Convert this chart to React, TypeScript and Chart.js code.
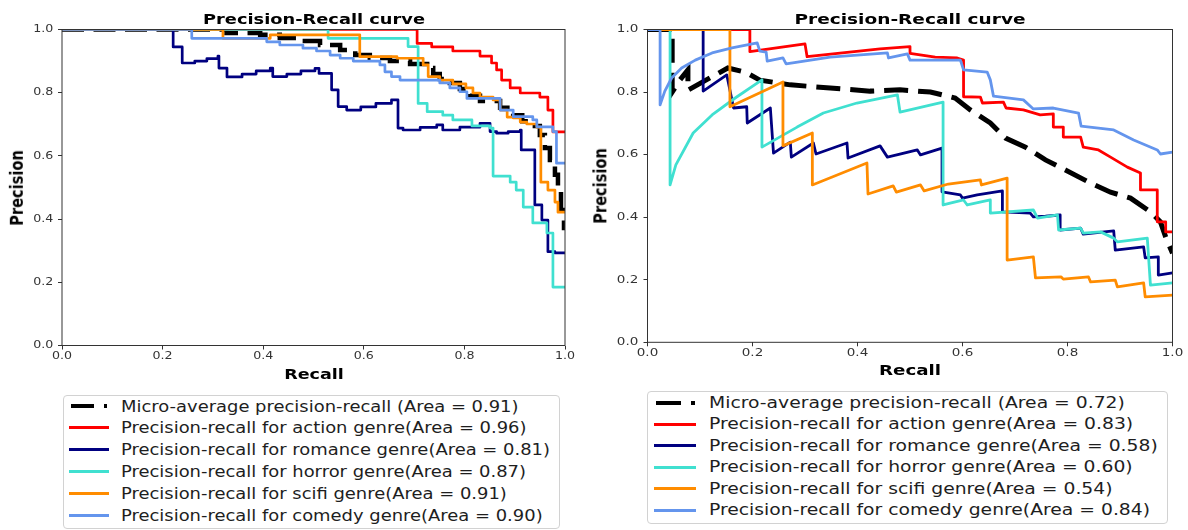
import React, { useEffect, useRef } from "react";
import { Chart, registerables } from "chart.js";

Chart.register(...registerables);

// ---------- shared text / styling values ----------
const TICK_VALUES = [0, 0.2, 0.4, 0.6, 0.8, 1.0];
const COLORS = ["#000000", "#ff0000", "#000080", "#40e0d0", "#ff8c00", "#6495ed"];
const TITLE = "Precision-Recall curve";
const X_TITLE = "Recall";
const Y_TITLE = "Precision";
const FONT = '"DejaVu Sans", "Liberation Sans", sans-serif';
const AXIS_COLOR = "#333333";
const TEXT_COLOR = "#1e1e1e";

const LEFT_LABELS = [
  "Micro-average precision-recall (Area = 0.91)",
  "Precision-recall for action genre(Area = 0.96)",
  "Precision-recall for romance genre(Area = 0.81)",
  "Precision-recall for horror genre(Area = 0.87)",
  "Precision-recall for scifi genre(Area = 0.91)",
  "Precision-recall for comedy genre(Area = 0.90)",
];
const RIGHT_LABELS = [
  "Micro-average precision-recall (Area = 0.72)",
  "Precision-recall for action genre(Area = 0.83)",
  "Precision-recall for romance genre(Area = 0.58)",
  "Precision-recall for horror genre(Area = 0.60)",
  "Precision-recall for scifi genre(Area = 0.54)",
  "Precision-recall for comedy genre(Area = 0.84)",
];

// ---------- left panel data (stepped curves) ----------
const L_MICRO_R = [0, 0.327, 0.394, 0.433, 0.473, 0.513, 0.553, 0.583, 0.612, 0.652, 0.692, 0.726, 0.738, 0.751, 0.771, 0.791, 0.811, 0.831, 0.871, 0.897, 0.915, 0.934, 0.95, 0.96, 0.97, 0.98, 0.986, 0.992, 0.998, 1.0];
const L_MICRO_P = [1.0, 0.989, 0.983, 0.973, 0.964, 0.951, 0.935, 0.919, 0.91, 0.9, 0.891, 0.878, 0.859, 0.843, 0.831, 0.812, 0.79, 0.774, 0.752, 0.729, 0.71, 0.695, 0.666, 0.625, 0.587, 0.54, 0.486, 0.429, 0.372, 0.372];

const L_ACTION_R = [0, 0.706, 0.735, 0.777, 0.831, 0.854, 0.864, 0.874, 0.891, 0.911, 0.95, 0.966, 0.976, 1.0];
const L_ACTION_P = [1.0, 0.956, 0.945, 0.932, 0.916, 0.894, 0.872, 0.84, 0.815, 0.799, 0.786, 0.745, 0.676, 0.676];

const L_ROMANCE_R = [0, 0.221, 0.239, 0.264, 0.288, 0.31, 0.312, 0.328, 0.358, 0.386, 0.414, 0.419, 0.447, 0.475, 0.503, 0.511, 0.536, 0.549, 0.566, 0.594, 0.624, 0.655, 0.668, 0.678, 0.712, 0.745, 0.757, 0.791, 0.831, 0.851, 0.864, 0.887, 0.911, 0.913, 0.94, 0.954, 0.966, 0.98, 1.0];
const L_ROMANCE_P = [1.0, 0.945, 0.894, 0.9, 0.908, 0.916, 0.878, 0.85, 0.859, 0.869, 0.878, 0.851, 0.859, 0.869, 0.877, 0.861, 0.809, 0.756, 0.745, 0.755, 0.766, 0.777, 0.688, 0.682, 0.69, 0.698, 0.682, 0.691, 0.703, 0.677, 0.672, 0.677, 0.682, 0.619, 0.445, 0.397, 0.297, 0.293, 0.293];

const L_HORROR_R = [0, 0.529, 0.688, 0.708, 0.726, 0.757, 0.777, 0.815, 0.851, 0.857, 0.891, 0.903, 0.917, 0.936, 0.964, 0.976, 1.0];
const L_HORROR_P = [1.0, 0.972, 0.946, 0.766, 0.74, 0.729, 0.714, 0.695, 0.688, 0.536, 0.517, 0.492, 0.438, 0.388, 0.356, 0.185, 0.185];

const L_SCIFI_R = [0, 0.32, 0.414, 0.592, 0.666, 0.718, 0.728, 0.751, 0.777, 0.803, 0.817, 0.831, 0.857, 0.871, 0.885, 0.897, 0.911, 0.924, 0.944, 0.952, 0.966, 0.98, 0.986, 1.0];
const L_SCIFI_P = [1.0, 0.972, 0.983, 0.914, 0.909, 0.888, 0.851, 0.84, 0.828, 0.815, 0.799, 0.786, 0.777, 0.745, 0.723, 0.72, 0.707, 0.701, 0.691, 0.517, 0.492, 0.454, 0.422, 0.422];

const L_COMEDY_R = [0, 0.258, 0.407, 0.433, 0.479, 0.506, 0.533, 0.553, 0.579, 0.632, 0.642, 0.655, 0.672, 0.751, 0.771, 0.791, 0.805, 0.871, 0.897, 0.936, 0.944, 0.976, 0.983, 1.0];
const L_COMEDY_P = [1.0, 0.972, 0.961, 0.951, 0.941, 0.932, 0.919, 0.909, 0.9, 0.888, 0.866, 0.851, 0.84, 0.831, 0.815, 0.803, 0.782, 0.745, 0.724, 0.714, 0.692, 0.677, 0.577, 0.577];

// ---------- right panel data (plain polylines) ----------
const R_MICRO_R = [0, 0.047, 0.047, 0.062, 0.077, 0.077, 0.153, 0.186, 0.214, 0.272, 0.348, 0.424, 0.481, 0.539, 0.586, 0.615, 0.653, 0.682, 0.72, 0.758, 0.796, 0.844, 0.882, 0.92, 0.958, 0.977, 0.989, 1.0];
const R_MICRO_P = [1.0, 1.0, 0.8, 0.839, 0.871, 0.806, 0.877, 0.864, 0.838, 0.823, 0.813, 0.803, 0.807, 0.8, 0.781, 0.743, 0.701, 0.653, 0.624, 0.583, 0.551, 0.509, 0.48, 0.461, 0.417, 0.385, 0.327, 0.285];

const R_ACTION_R = [0, 0.195, 0.195, 0.3, 0.304, 0.443, 0.5, 0.5, 0.548, 0.59, 0.602, 0.602, 0.634, 0.638, 0.678, 0.683, 0.716, 0.748, 0.773, 0.773, 0.792, 0.792, 0.825, 0.83, 0.859, 0.882, 0.914, 0.939, 0.939, 0.971, 0.971, 0.987, 0.987, 1.0];
const R_ACTION_P = [1.0, 1.0, 0.929, 0.954, 0.913, 0.938, 0.945, 0.924, 0.912, 0.909, 0.902, 0.785, 0.784, 0.765, 0.768, 0.749, 0.743, 0.727, 0.73, 0.688, 0.688, 0.656, 0.656, 0.624, 0.615, 0.592, 0.56, 0.541, 0.487, 0.487, 0.385, 0.385, 0.353, 0.353];

const R_ROMANCE_R = [0, 0.106, 0.106, 0.151, 0.164, 0.189, 0.19, 0.234, 0.24, 0.272, 0.274, 0.316, 0.321, 0.38, 0.382, 0.443, 0.457, 0.514, 0.52, 0.561, 0.561, 0.596, 0.6, 0.628, 0.676, 0.676, 0.729, 0.735, 0.758, 0.786, 0.786, 0.825, 0.83, 0.888, 0.891, 0.945, 0.948, 0.973, 0.973, 1.0];
const R_ROMANCE_P = [1.0, 1.0, 0.803, 0.855, 0.749, 0.753, 0.701, 0.749, 0.605, 0.64, 0.592, 0.637, 0.602, 0.637, 0.589, 0.628, 0.592, 0.615, 0.599, 0.621, 0.481, 0.471, 0.461, 0.471, 0.484, 0.417, 0.413, 0.401, 0.403, 0.407, 0.359, 0.365, 0.346, 0.356, 0.295, 0.305, 0.27, 0.273, 0.215, 0.222];

const R_HORROR_R = [0, 0.043, 0.043, 0.054, 0.087, 0.123, 0.167, 0.218, 0.218, 0.285, 0.335, 0.399, 0.476, 0.481, 0.563, 0.563, 0.602, 0.609, 0.653, 0.653, 0.735, 0.743, 0.781, 0.783, 0.825, 0.83, 0.863, 0.888, 0.895, 0.952, 0.958, 1.0];
const R_HORROR_P = [1.0, 1.0, 0.503, 0.567, 0.669, 0.727, 0.781, 0.839, 0.624, 0.688, 0.733, 0.765, 0.791, 0.736, 0.768, 0.439, 0.455, 0.439, 0.455, 0.413, 0.423, 0.397, 0.407, 0.359, 0.365, 0.349, 0.353, 0.333, 0.321, 0.333, 0.183, 0.19];

const R_SCIFI_R = [0, 0.157, 0.157, 0.258, 0.258, 0.314, 0.314, 0.418, 0.42, 0.468, 0.474, 0.52, 0.527, 0.573, 0.634, 0.636, 0.685, 0.685, 0.735, 0.739, 0.788, 0.792, 0.84, 0.844, 0.891, 0.895, 0.945, 0.948, 1.0];
const R_SCIFI_P = [1.0, 1.0, 0.753, 0.832, 0.628, 0.669, 0.503, 0.573, 0.474, 0.5, 0.48, 0.503, 0.484, 0.506, 0.519, 0.503, 0.525, 0.263, 0.273, 0.206, 0.209, 0.202, 0.209, 0.193, 0.199, 0.177, 0.19, 0.145, 0.151];

const R_COMEDY_R = [0, 0.024, 0.024, 0.033, 0.046, 0.065, 0.091, 0.123, 0.161, 0.209, 0.214, 0.226, 0.228, 0.258, 0.264, 0.348, 0.457, 0.459, 0.495, 0.5, 0.596, 0.602, 0.647, 0.653, 0.659, 0.716, 0.735, 0.773, 0.821, 0.826, 0.888, 0.926, 0.971, 0.977, 1.0];
const R_COMEDY_P = [1.0, 1.0, 0.759, 0.803, 0.845, 0.877, 0.902, 0.925, 0.941, 0.957, 0.931, 0.928, 0.899, 0.909, 0.89, 0.912, 0.925, 0.909, 0.922, 0.902, 0.902, 0.871, 0.864, 0.839, 0.787, 0.775, 0.746, 0.749, 0.733, 0.691, 0.679, 0.647, 0.615, 0.602, 0.608];

type PanelCfg = {
  left: number;
  width: number;
  height: number;
  plotLeft: number;
  plotRight: number;
  plotTop: number;
  plotBottom: number;
  stepped: boolean;
  recalls: number[][];
  precisions: number[][];
  lineWidth: number;
  microWidth: number;
  microDash: number[];
  tickSize: number;
  sx: number;
  xLabelOffset: number;
  yLabelGap: number;
};

const LEFT_CFG: PanelCfg = {
  left: 0, width: 590, height: 385,
  plotLeft: 62, plotRight: 565, plotTop: 29.5, plotBottom: 345.5,
  stepped: true,
  recalls: [L_MICRO_R, L_ACTION_R, L_ROMANCE_R, L_HORROR_R, L_SCIFI_R, L_COMEDY_R],
  precisions: [L_MICRO_P, L_ACTION_P, L_ROMANCE_P, L_HORROR_P, L_SCIFI_P, L_COMEDY_P],
  lineWidth: 2.7, microWidth: 4.5, microDash: [22, 9.5],
  tickSize: 10.5, sx: 1.2, xLabelOffset: 11, yLabelGap: 8.7,
};

const RIGHT_CFG: PanelCfg = {
  left: 590, width: 598, height: 385,
  plotLeft: 57.5, plotRight: 582.5, plotTop: 29.5, plotBottom: 342.3,
  stepped: false,
  recalls: [R_MICRO_R, R_ACTION_R, R_ROMANCE_R, R_HORROR_R, R_SCIFI_R, R_COMEDY_R],
  precisions: [R_MICRO_P, R_ACTION_P, R_ROMANCE_P, R_HORROR_P, R_SCIFI_P, R_COMEDY_P],
  lineWidth: 2.8, microWidth: 5, microDash: [24, 10],
  tickSize: 10.8, sx: 1.25, xLabelOffset: 11, yLabelGap: 9.2,
};

function PRCanvas({ cfg }: { cfg: PanelCfg }) {
  const ref = useRef<HTMLCanvasElement | null>(null);
  useEffect(() => {
    const canvas = ref.current;
    if (!canvas) return;
    const datasets = cfg.recalls.map((rs, i) => ({
      label: String(i),
      data: rs.map((r, j) => ({ x: r, y: cfg.precisions[i][j] })),
      borderColor: COLORS[i],
      backgroundColor: COLORS[i],
      borderWidth: i === 0 ? cfg.microWidth : cfg.lineWidth,
      borderDash: i === 0 ? cfg.microDash : [],
      borderCapStyle: "butt" as const,
      borderJoinStyle: (i === 0 ? "miter" : "round") as any,
      stepped: cfg.stepped ? ("before" as const) : false,
      tension: 0,
      pointRadius: 0,
      pointHoverRadius: 0,
      fill: false,
      clip: 0,
      order: 6 - i,
    }));

    const framePlugin = {
      id: "frame",
      afterDatasetsDraw(chart: any) {
        const { ctx, chartArea: a } = chart;
        ctx.save();
        ctx.strokeStyle = AXIS_COLOR;
        ctx.lineWidth = 1;
        ctx.strokeRect(a.left, a.top, a.right - a.left, a.bottom - a.top);
        ctx.restore();
      },
    };

    const tickLabelPlugin = {
      id: "stretchedTickLabels",
      afterDraw(chart: any) {
        const ctx = chart.ctx;
        const xs = chart.scales.x;
        const ys = chart.scales.y;
        ctx.save();
        ctx.fillStyle = AXIS_COLOR;
        ctx.font = `${cfg.tickSize}px ${FONT}`;
        ctx.textBaseline = "middle";
        TICK_VALUES.forEach((v) => {
          const label = v.toFixed(1);
          const px = xs.getPixelForValue(v);
          ctx.save();
          ctx.translate(px, xs.top + cfg.xLabelOffset);
          ctx.scale(cfg.sx, 1);
          ctx.textAlign = "center";
          ctx.fillText(label, 0, 0);
          ctx.restore();
          const py = ys.getPixelForValue(v);
          ctx.save();
          ctx.translate(ys.right - cfg.yLabelGap, py);
          ctx.scale(cfg.sx, 1);
          ctx.textAlign = "right";
          ctx.fillText(label, 0, 0);
          ctx.restore();
        });
        ctx.restore();
      },
    };

    const chart = new Chart(canvas, {
      type: "line",
      data: { datasets: datasets as any },
      options: {
        animation: false,
        responsive: false,
        maintainAspectRatio: false,
        events: [],
        layout: {
          padding: { left: 0, top: cfg.plotTop, right: cfg.width - cfg.plotRight, bottom: 0 },
        },
        plugins: {
          legend: { display: false },
          tooltip: { enabled: false },
          title: { display: false },
        },
        scales: {
          x: {
            type: "linear",
            min: 0,
            max: 1,
            afterFit: (s: any) => {
              s.height = cfg.height - cfg.plotBottom;
            },
            ticks: { stepSize: 0.2, display: false },
            grid: { display: true, drawOnChartArea: false, drawTicks: true, tickLength: 4, color: AXIS_COLOR, lineWidth: 1 },
            border: { display: false },
          },
          y: {
            type: "linear",
            min: 0,
            max: 1,
            afterFit: (s: any) => {
              s.width = cfg.plotLeft;
            },
            ticks: { stepSize: 0.2, display: false },
            grid: { display: true, drawOnChartArea: false, drawTicks: true, tickLength: 4, color: AXIS_COLOR, lineWidth: 1 },
            border: { display: false },
          },
        },
      } as any,
      plugins: [framePlugin, tickLabelPlugin],
    });
    return () => chart.destroy();
  }, [cfg]);

  return (
    <canvas
      ref={ref}
      width={cfg.width}
      height={cfg.height}
      style={{ position: "absolute", left: cfg.left, top: 0, width: cfg.width, height: cfg.height }}
    />
  );
}

type TextCfg = { x: number; y: number; size: number; sx: number; rotate?: boolean; text: string };

function BoldText({ t }: { t: TextCfg }) {
  return (
    <div
      style={{
        position: "absolute",
        left: t.x,
        top: t.y,
        transform: `translate(-50%, -50%) scaleX(${t.sx})${t.rotate ? " rotate(-90deg)" : ""}`,
        fontFamily: FONT,
        fontWeight: "bold",
        fontSize: t.size,
        lineHeight: 1,
        whiteSpace: "nowrap",
        color: "#000",
      }}
    >
      {t.text}
    </div>
  );
}

type LegendCfg = {
  left: number;
  top: number;
  width: number;
  height: number;
  sampleLeft: number;
  sampleWidth: number;
  microPieces: number[][];
  microWidth: number;
  lineWidth: number;
  textLeft: number;
  firstRow: number;
  rowGap: number;
  fontSize: number;
  sx: number;
  labels: string[];
};

function Legend({ c }: { c: LegendCfg }) {
  return (
    <div
      style={{
        position: "absolute",
        left: c.left,
        top: c.top,
        width: c.width,
        height: c.height,
        border: "1px solid #d2d2d2",
        borderRadius: 4,
        boxSizing: "border-box",
        background: "#fff",
      }}
    >
      {c.labels.map((lab, i) => {
        const cy = c.firstRow + i * c.rowGap;
        return (
          <React.Fragment key={i}>
            {i === 0 ? (
              c.microPieces.map((pc, k) => (
                <div
                  key={k}
                  style={{
                    position: "absolute",
                    left: pc[0],
                    width: pc[1],
                    top: Math.round(cy - 1 - c.microWidth / 2),
                    height: c.microWidth,
                    background: COLORS[0],
                  }}
                />
              ))
            ) : (
              <div
                style={{
                  position: "absolute",
                  left: c.sampleLeft,
                  width: c.sampleWidth,
                  top: Math.round(cy - 0.5 - c.lineWidth / 2),
                  height: c.lineWidth,
                  background: COLORS[i],
                }}
              />
            )}
            <div
              style={{
                position: "absolute",
                left: c.textLeft,
                top: cy,
                transform: `translateY(-50%) scaleX(${c.sx})`,
                transformOrigin: "left center",
                fontFamily: FONT,
                fontSize: c.fontSize,
                lineHeight: 1,
                whiteSpace: "nowrap",
                color: TEXT_COLOR,
              }}
            >
              {lab}
            </div>
          </React.Fragment>
        );
      })}
    </div>
  );
}

const LEFT_LEGEND: LegendCfg = {
  left: 62.5, top: 395, width: 497, height: 133.5,
  sampleLeft: 5, sampleWidth: 40,
  microPieces: [[7, 23], [40, 3]], microWidth: 4, lineWidth: 3,
  textLeft: 57, firstRow: 10.5, rowGap: 21.8, fontSize: 15, sx: 1.195,
  labels: LEFT_LABELS,
};

const RIGHT_LEGEND: LegendCfg = {
  left: 647, top: 390.5, width: 521, height: 133.5,
  sampleLeft: 5.5, sampleWidth: 42,
  microPieces: [[7.5, 25], [43, 3.5]], microWidth: 4, lineWidth: 3,
  textLeft: 60.5, firstRow: 11.5, rowGap: 21.47, fontSize: 15, sx: 1.25,
  labels: RIGHT_LABELS,
};

const TEXTS: TextCfg[] = [
  { x: 313.5, y: 18.7, size: 14.6, sx: 1.22, text: TITLE },
  { x: 313.5, y: 373.7, size: 14.6, sx: 1.2, text: X_TITLE },
  { x: 16.7, y: 188, size: 14.6, sx: 1.2, rotate: true, text: Y_TITLE },
  { x: 909.8, y: 18.7, size: 14.6, sx: 1.27, text: TITLE },
  { x: 909.8, y: 369.5, size: 14.6, sx: 1.25, text: X_TITLE },
  { x: 600, y: 186, size: 14.6, sx: 1.25, rotate: true, text: Y_TITLE },
];

export default function App() {
  return (
    <div
      style={{
        position: "fixed",
        left: 0,
        top: 0,
        width: 1188,
        height: 530,
        background: "#ffffff",
        overflow: "hidden",
      }}
    >
      <PRCanvas cfg={LEFT_CFG} />
      <PRCanvas cfg={RIGHT_CFG} />
      {TEXTS.map((t, i) => (
        <BoldText key={i} t={t} />
      ))}
      <Legend c={LEFT_LEGEND} />
      <Legend c={RIGHT_LEGEND} />
    </div>
  );
}
